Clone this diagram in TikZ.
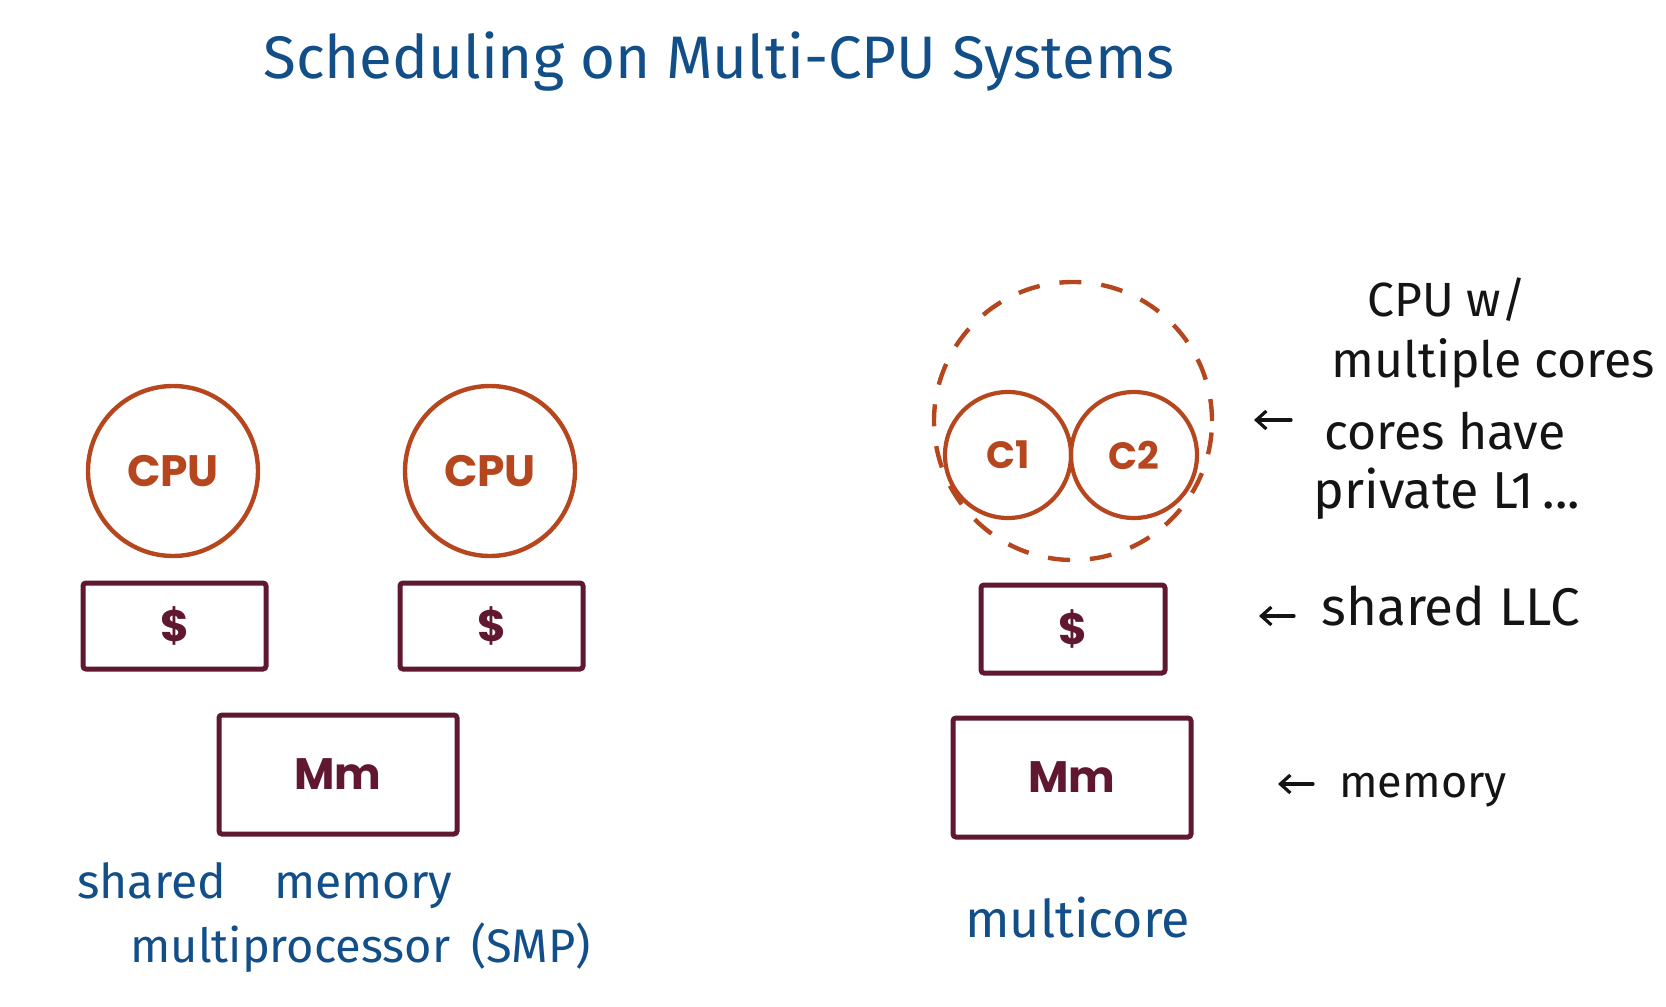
\documentclass[tikz,border=0pt]{standalone}
\usepackage{fontspec}
\setmainfont{Fira Sans}
\newfontfamily\geo{Poppins}
\usetikzlibrary{arrows.meta}
\definecolor{cpuorange}{RGB}{182,70,30}
\definecolor{boxmaroon}{RGB}{96,24,48}
\definecolor{inkblue}{RGB}{18,78,136}
\definecolor{inkblack}{RGB}{20,20,20}
\tikzset{
  cpu/.style={circle,draw=cpuorange,line width=2.2pt,text=cpuorange,font=\geo\bfseries\fontsize{22}{24}\selectfont,inner sep=0pt},
  core/.style={circle,draw=cpuorange,line width=2.1pt,text=cpuorange,font=\geo\bfseries\fontsize{19}{21}\selectfont,inner sep=0pt,minimum size=63pt},
  membox/.style={draw=boxmaroon,line width=2.5pt,rounded corners=1.5pt,text=boxmaroon,font=\geo\bfseries\fontsize{22}{24}\selectfont,inner sep=0pt},
  bluenote/.style={text=inkblue,anchor=base west,inner sep=0pt},
  blacknote/.style={text=inkblack,anchor=base west,inner sep=0pt,font=\fontsize{25}{27}\selectfont},
  notearrow/.style={draw=inkblack,line width=1.6pt,line cap=round,-{Straight Barb[length=5pt,width=9pt,line width=1.6pt]}}
}
\begin{document}
\begin{tikzpicture}[x=0.5pt,y=-0.5pt]
\useasboundingbox (0,0) rectangle (1666,1007);
% title
\node[bluenote,font=\fontsize{30}{32}\selectfont] (title) at (263,78) {Scheduling on Multi-CPU Systems};
% SMP side
\node[cpu,minimum size=85pt] (cpu1) at (173,471) {CPU};
\node[cpu,minimum size=85pt] (cpu2) at (490,471) {CPU};
\node[membox,minimum width=91.5pt,minimum height=43pt] (c1) at (174.5,626) {\$};
\node[membox,minimum width=91.5pt,minimum height=43pt] (c2) at (491.5,626) {\$};
\node[membox,minimum width=119pt,minimum height=59.5pt] (mm1) at (338,774.5) {Mm};
\node[bluenote,font=\fontsize{24}{26}\selectfont] (smp1) at (77,898) {shared\hspace{1em}memory};
\node[bluenote,font=\fontsize{23.5}{26}\selectfont] (smp2) at (130,962) {multiprocessor\hspace{0.45em}(SMP)};
% multicore side
\node[circle,draw=cpuorange,line width=2.2pt,dash pattern=on 11pt off 10pt,minimum size=139pt,inner sep=0pt] (pkg) at (1073,421) {};
\node[core] (core1) at (1008,455) {C1};
\node[core] (core2) at (1134,455) {C2};
\node[membox,minimum width=92pt,minimum height=44pt] (llc) at (1073,629) {\$};
\node[membox,minimum width=119pt,minimum height=59.5pt] (mm2) at (1072,777.5) {Mm};
\node[bluenote,font=\fontsize{26}{28}\selectfont] (mc) at (965,937) {multicore};
% annotations
\node[blacknote,font=\fontsize{24}{26}\selectfont] (n1) at (1367,316) {CPU w/};
\node[blacknote] (n2) at (1331,377) {multiple cores};
\node[blacknote] (n3) at (1324,449) {cores have};
\node[blacknote,font=\fontsize{26}{28}\selectfont] (n4) at (1313,508) {private L1\,...};
\node[blacknote,font=\fontsize{26.5}{28}\selectfont] (n5) at (1321,625) {shared LLC};
\node[blacknote,font=\fontsize{22.5}{25}\selectfont] (n6) at (1339,797) {memory};
\coordinate (a1s) at (1291,420); \coordinate (a1e) at (1254,420);
\coordinate (a2s) at (1294,616); \coordinate (a2e) at (1259,616);
\coordinate (a3s) at (1313,784); \coordinate (a3e) at (1278,784);
\draw[notearrow] (a1s) -- (a1e);
\draw[notearrow] (a2s) -- (a2e);
\draw[notearrow] (a3s) -- (a3e);
\end{tikzpicture}
\end{document}
